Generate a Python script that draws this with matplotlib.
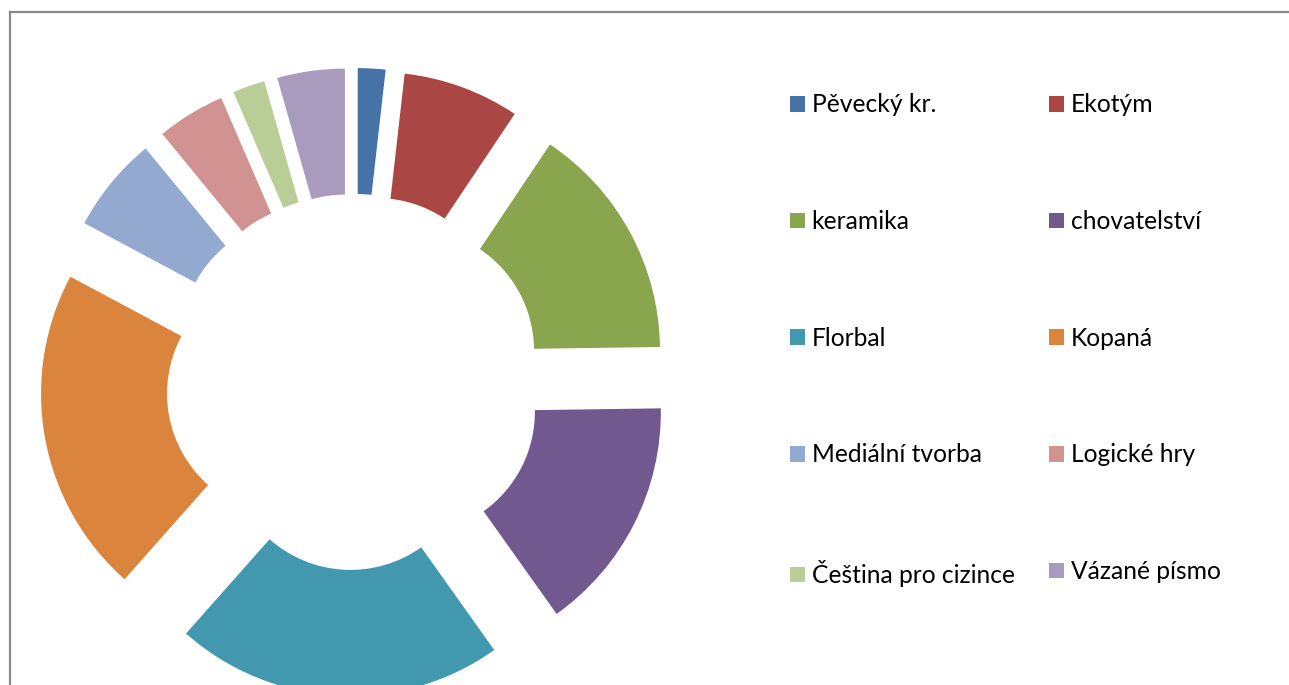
import matplotlib.pyplot as plt
from matplotlib.patches import Patch
from matplotlib.lines import Line2D

# krouzky - podil prihlasenych (%)
labels = ['Pěvecký kr.', 'Ekotým', 'keramika', 'chovatelství', 'Florbal',
          'Kopaná', 'Mediální tvorba', 'Logické hry', 'Čeština pro cizince',
          'Vázané písmo']
values = [1.8, 7.6, 15.4, 15.4, 21.4, 21.3, 6.25, 4.45, 2.1, 4.4]
colors = ['#4572A7', '#AA4643', '#89A54E', '#71588F', '#4198AF',
          '#DB843D', '#93A9CF', '#D19392', '#B9CD96', '#A99BBD']

W, H = 1289, 685
cx, cy, R = 354, 382, 248  # pixels

fig = plt.figure(figsize=(W / 100, H / 100), dpi=100)
ax = fig.add_axes([0, 0, 1, 1])

wedges, _ = ax.pie(values, colors=colors, startangle=90, counterclock=False,
                   radius=1, explode=[66 / R] * len(values),
                   wedgeprops=dict(width=126 / R, linewidth=0))

ax.set_aspect('auto')
ax.set_xlim(-cx / R, (W - cx) / R)
ax.set_ylim(-(H - cy) / R, cy / R)
ax.axis('off')

# ramecek grafu (jen levy a horni okraj je videt)
fig.add_artist(Line2D([10 / W, 10 / W], [0, 1 - 12 / H], color='#898989',
                      lw=1.6, transform=fig.transFigure))
fig.add_artist(Line2D([10 / W, 1], [1 - 12 / H, 1 - 12 / H], color='#898989',
                      lw=1.6, transform=fig.transFigure))

# legenda po radcich -> preskladat pro ncol=2
order = list(range(0, 10, 2)) + list(range(1, 10, 2))
handles = [Patch(facecolor=colors[i], edgecolor='none') for i in order]
fig.legend(handles, [labels[i] for i in order], ncol=2, frameon=False,
           loc='upper left', bbox_to_anchor=(790 / W, 1 - 93.5 / H),
           prop={'family': 'Lato', 'size': 17.7},
           handlelength=0.6, handleheight=0.6, handletextpad=0.28,
           columnspacing=1.4, labelspacing=3.81, borderpad=0,
           borderaxespad=0)

fig.savefig('out.png', dpi=100)
